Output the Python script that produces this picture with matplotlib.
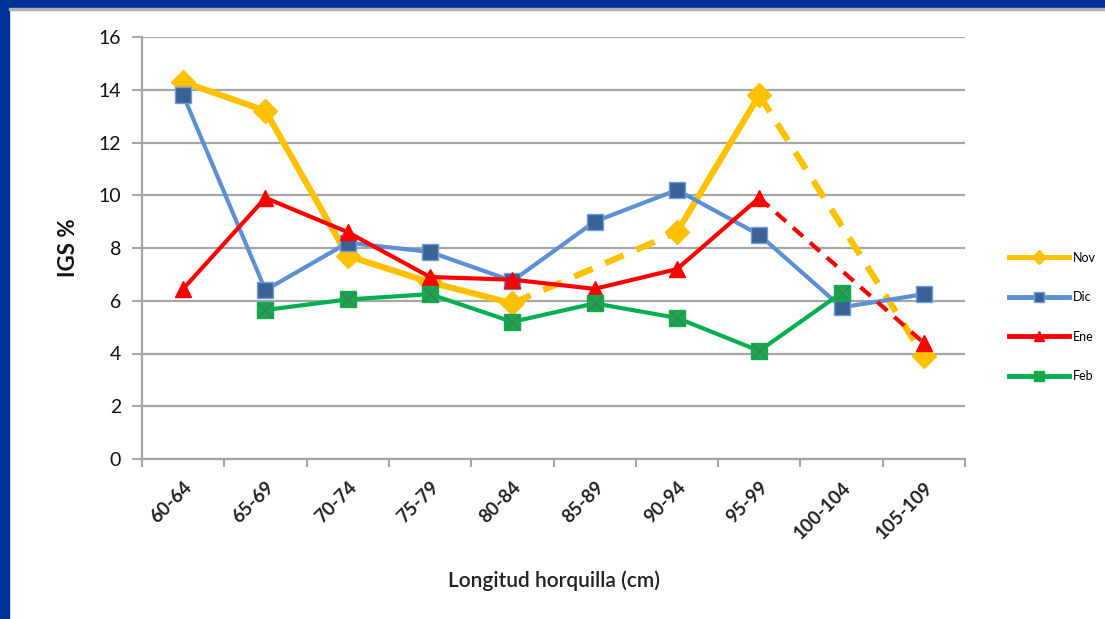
import numpy as np
import matplotlib.pyplot as plt
from matplotlib.patches import Rectangle
from matplotlib.lines import Line2D

plt.rcParams['font.family'] = ['Lato', 'DejaVu Sans']

categories = ['60-64', '65-69', '70-74', '75-79', '80-84', '85-89',
              '90-94', '95-99', '100-104', '105-109']
nan = np.nan
nov = [14.3, 13.2, 7.7, 6.7, 5.9, nan, 8.6, 13.8, nan, 3.9]
dic = [13.8, 6.4, 8.2, 7.85, 6.75, 9.0, 10.2, 8.5, 5.75, 6.25]
ene = [6.45, 9.9, 8.6, 6.9, 6.8, 6.45, 7.2, 9.9, nan, 4.4]
feb = [nan, 5.65, 6.05, 6.25, 5.2, 5.9, 5.35, 4.1, 6.3, nan]

fig = plt.figure(figsize=(11.05, 6.19), dpi=100)
fig.patches.append(Rectangle((0, 1 - 8 / 619), 1, 8 / 619, transform=fig.transFigure,
                             color='#003399', zorder=0))
fig.patches.append(Rectangle((0, 0), 9 / 1105, 1, transform=fig.transFigure,
                             color='#003399', zorder=0))
fig.patches.append(Rectangle((9 / 1105, 1 - 10 / 619), 1, 2 / 619, transform=fig.transFigure,
                             color='#b0b0b0', zorder=0))

ax = fig.add_axes([142 / 1105, 1 - 459 / 619, 823 / 1105, 422 / 619])
x = np.arange(len(categories))


def draw(vals, color, lw, marker, ms, mfc, mec, z):
    v = np.array(vals, dtype=float)
    ok = ~np.isnan(v)
    idx = x[ok]
    # dashed bridge over missing classes
    for a, b in zip(idx[:-1], idx[1:]):
        if b - a > 1:
            ax.plot([a, b], [v[a], v[b]], color=color, lw=lw, ls=(0, (3.2, 2.2)),
                    zorder=z, solid_capstyle='butt')
    ax.plot(x, v, color=color, lw=lw, zorder=z + 0.1)
    ax.plot(x, v, ls='none', marker=marker, ms=ms, mfc=mfc, mec=mec, mew=1,
            zorder=z + 0.2)


draw(nov, '#FFC000', 4.5, 'D', 12, '#FFC000', '#FFC000', 3)
draw(dic, '#5B8FD6', 3, 's', 12, '#3A6296', '#6E9BDB', 4)
draw(ene, '#FF0000', 3, '^', 12, '#FF0000', '#FF0000', 5)
draw(feb, '#00B050', 3, 's', 12, '#17A84E', '#17A84E', 6)
ax.plot(x, feb, ls='none', marker='x', ms=10, mec='#3F7F5A', mew=1, zorder=6.3)

ax.set_xlim(-0.5, len(categories) - 0.5)
ax.set_ylim(0, 16)
ax.set_yticks(np.arange(0, 17, 2))
ax.yaxis.grid(True, color='#A6A6A6', lw=1.6)
ax.set_axisbelow(True)
ax.set_xticks(x)
ax.set_xticklabels(categories, rotation=45, ha='right', rotation_mode='anchor',
                   fontsize=13.5, fontweight='bold', color='#222222')
ax.set_xticks(np.arange(-0.5, len(categories)), minor=True)
ax.tick_params(axis='x', which='major', length=0, pad=14)
ax.tick_params(axis='x', which='minor', length=6, width=1.5, color='#A6A6A6')
ax.tick_params(axis='y', length=7, width=1.5, color='#A6A6A6', labelsize=14,
               labelcolor='#111111', pad=8)
for s in ['top', 'right']:
    ax.spines[s].set_visible(False)
for s in ['left', 'bottom']:
    ax.spines[s].set_color('#A6A6A6')
    ax.spines[s].set_linewidth(1.6)

ax.set_ylabel('IGS %', fontsize=16, fontweight='bold', color='#111111', labelpad=14)
fig.text(554 / 1105, 1 - 581 / 619, 'Longitud horquilla (cm)', ha='center', va='center',
         fontsize=15, fontweight='semibold', color='#222222')

handles = [
    Line2D([], [], color='#FFC000', lw=3.5, marker='D', ms=7, mfc='#FFC000', mec='#FFC000'),
    Line2D([], [], color='#5B8FD6', lw=3.5, marker='s', ms=7, mfc='#3A6296', mec='#6E9BDB'),
    Line2D([], [], color='#FF0000', lw=3.5, marker='^', ms=7, mfc='#FF0000', mec='#FF0000'),
    Line2D([], [], color='#00B050', lw=3.5, marker='s', ms=7, mfc='#17A84E', mec='#17A84E'),
]
fig.legend(handles, ['Nov', 'Dic', 'Ene', 'Feb'], loc='center left',
           bbox_to_anchor=(998 / 1105, 1 - 317 / 619), frameon=False, fontsize=9,
           handlelength=4.8, labelspacing=2.2, handletextpad=0.3)

fig.savefig('out.png', dpi=100, facecolor='white')
